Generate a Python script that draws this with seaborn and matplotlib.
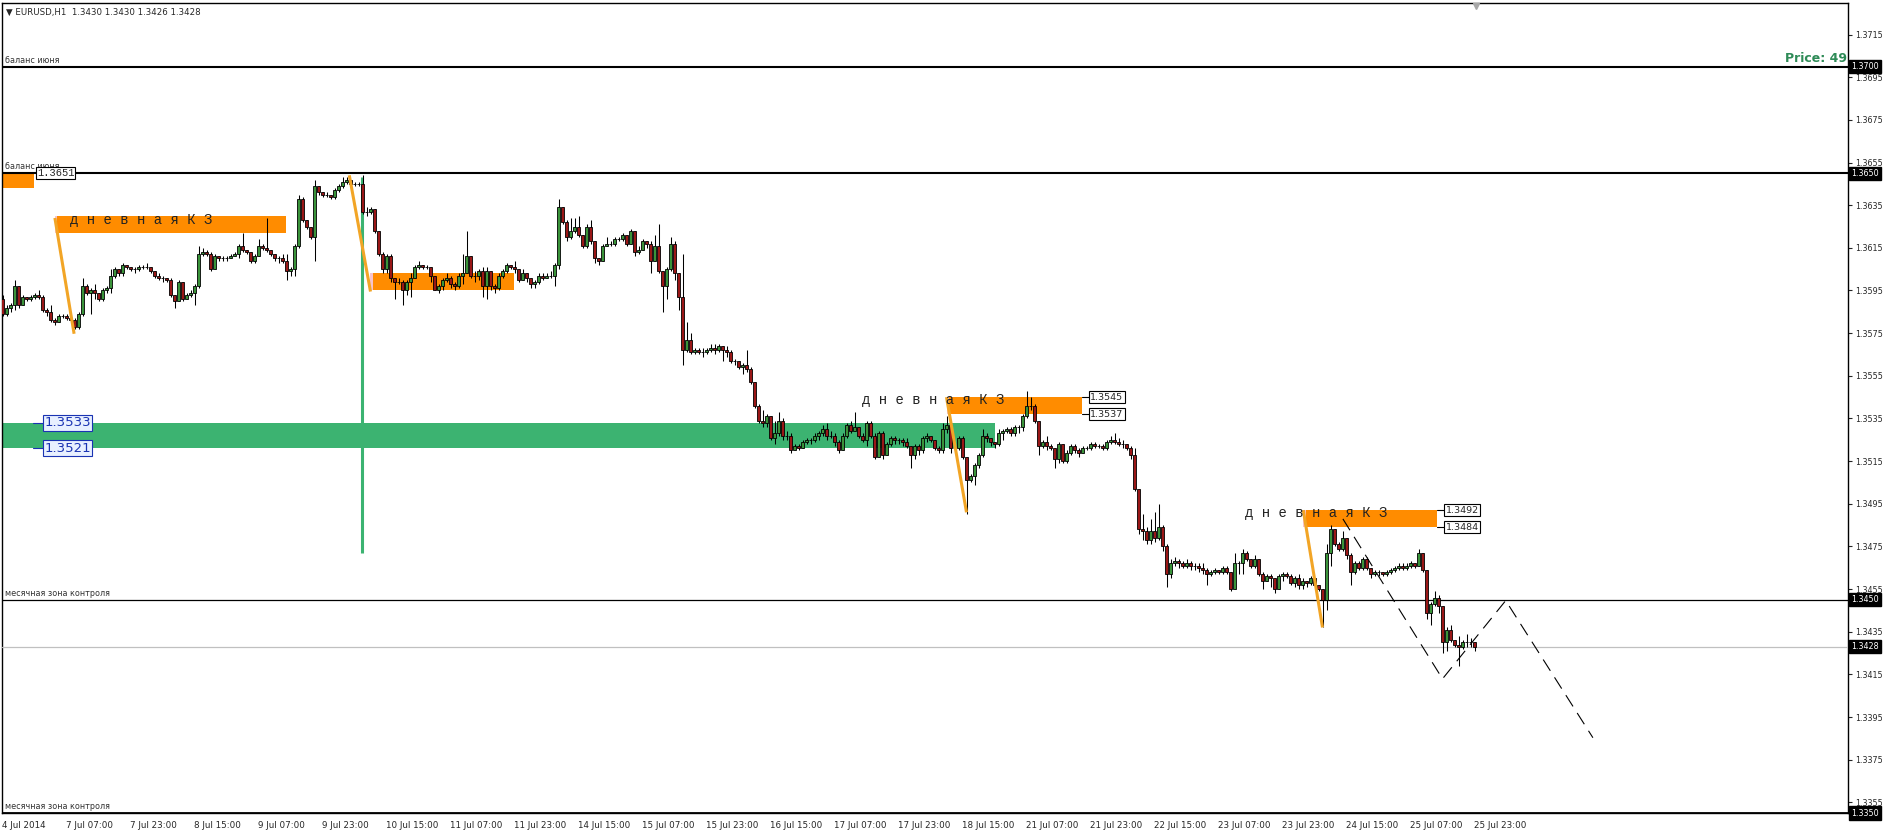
import numpy as np
import pandas as pd
import matplotlib
matplotlib.use("Agg")
import matplotlib.pyplot as plt
import matplotlib.transforms as mtransforms
from matplotlib.patches import Rectangle
import seaborn as sns

# EURUSD H1, 4 Jul 2014 15:00 .. 25 Jul 2014 23:00
# prices in pips above 1.3000, open of each bar = previous close
first_open = 591
closes = [
    584, 587, 588, 597, 588, 592, 591, 592, 593, 592,
    586, 585, 581, 580, 583, 583, 582, 581, 578, 584,
    597, 594, 595, 594, 591, 595, 596, 602, 605, 603,
    607, 606, 605, 605, 606, 606, 606, 604, 602, 601,
    601, 600, 593, 590, 599, 591, 593, 594, 597, 612,
    613, 612, 605, 611, 610, 610, 610, 611, 612, 616,
    614, 613, 609, 611, 616, 615, 614, 612, 610, 610,
    609, 604, 605, 616, 638, 628, 625, 620, 644, 641,
    640, 640, 639, 642, 644, 646, 647, 645, 645, 645,
    632, 632, 633, 623, 612, 605, 611, 601, 599, 599,
    595, 599, 601, 606, 607, 606, 606, 602, 595, 597,
    600, 601, 598, 597, 602, 603, 611, 602, 602, 604,
    597, 604, 597, 596, 602, 604, 607, 606, 605, 600,
    603, 601, 598, 599, 602, 601, 602, 602, 607, 634,
    627, 620, 623, 625, 621, 616, 625, 618, 610, 609,
    616, 617, 617, 619, 619, 621, 617, 623, 613, 614,
    618, 617, 609, 616, 604, 597, 605, 617, 603, 592,
    567, 572, 566, 567, 566, 566, 567, 568, 567, 569,
    567, 566, 562, 562, 559, 560, 558, 552, 541, 534,
    533, 536, 526, 528, 534, 527, 527, 520, 522, 521,
    524, 525, 525, 527, 528, 530, 527, 527, 524, 520,
    527, 532, 529, 531, 527, 525, 533, 527, 517, 528,
    518, 523, 526, 525, 525, 524, 522, 518, 522, 520,
    526, 527, 525, 521, 520, 530, 532, 521, 521, 526,
    517, 506, 508, 513, 518, 527, 526, 524, 523, 528,
    529, 530, 528, 531, 531, 536, 541, 541, 534, 522,
    524, 522, 521, 516, 523, 515, 519, 522, 520, 519,
    521, 521, 523, 522, 522, 521, 524, 525, 524, 523,
    523, 521, 518, 502, 483, 482, 478, 482, 479, 484,
    475, 462, 467, 468, 467, 466, 467, 466, 466, 465,
    464, 462, 463, 464, 463, 465, 463, 455, 467, 467,
    472, 469, 466, 469, 462, 459, 461, 460, 455, 461,
    462, 461, 458, 460, 457, 459, 458, 460, 457, 455,
    450, 472, 483, 476, 474, 479, 471, 463, 467, 465,
    469, 465, 462, 463, 463, 462, 463, 464, 465, 466,
    465, 466, 467, 466, 472, 464, 444, 448, 451, 447,
    430, 436, 431, 429, 428, 430, 430, 430, 428,
]
highs = [
    593, 588, 589, 600, 597, 593, 592, 593, 594, 595,
    593, 587, 588, 582, 584, 584, 584, 583, 582, 585,
    601, 598, 596, 598, 594, 596, 597, 605, 606, 605,
    608, 607, 606, 606, 607, 607, 608, 606, 604, 603,
    602, 601, 601, 592, 600, 599, 594, 595, 598, 616,
    615, 614, 613, 612, 611, 611, 611, 612, 613, 617,
    622, 614, 612, 612, 619, 617, 629, 614, 612, 611,
    612, 612, 606, 617, 640, 639, 628, 624, 647, 644,
    641, 641, 640, 643, 645, 648, 648, 647, 646, 646,
    649, 634, 634, 633, 623, 613, 612, 612, 600, 601,
    600, 600, 603, 607, 609, 607, 607, 606, 602, 598,
    601, 603, 602, 599, 603, 612, 623, 611, 604, 605,
    606, 606, 604, 598, 603, 605, 608, 607, 609, 605,
    605, 603, 601, 600, 603, 603, 603, 604, 608, 638,
    634, 628, 629, 629, 630, 621, 626, 628, 618, 610,
    617, 620, 618, 620, 620, 622, 621, 624, 623, 616,
    619, 618, 618, 621, 626, 604, 606, 620, 618, 603,
    612, 580, 575, 568, 568, 568, 568, 570, 570, 570,
    569, 569, 567, 563, 562, 561, 567, 559, 552, 542,
    539, 537, 536, 534, 538, 535, 529, 528, 523, 523,
    525, 526, 526, 528, 529, 532, 533, 529, 528, 525,
    528, 533, 534, 538, 531, 528, 534, 534, 528, 529,
    529, 524, 527, 527, 526, 526, 526, 522, 523, 523,
    527, 528, 527, 525, 522, 533, 536, 532, 522, 527,
    527, 517, 509, 514, 519, 530, 528, 526, 524, 530,
    530, 531, 531, 532, 532, 537, 548, 545, 542, 534,
    525, 527, 523, 521, 524, 523, 520, 523, 523, 521,
    522, 522, 524, 524, 523, 523, 525, 527, 528, 526,
    525, 523, 522, 521, 502, 490, 484, 488, 491, 495,
    485, 476, 469, 470, 469, 468, 469, 468, 467, 467,
    467, 465, 464, 465, 464, 466, 466, 463, 472, 468,
    474, 473, 469, 471, 469, 463, 462, 462, 459, 462,
    463, 463, 462, 461, 462, 460, 459, 461, 460, 457,
    455, 476, 485, 483, 477, 482, 479, 472, 468, 468,
    470, 470, 465, 464, 464, 463, 464, 465, 466, 467,
    467, 467, 468, 467, 474, 472, 464, 449, 454, 452,
    447, 437, 438, 431, 433, 431, 434, 432, 430,
]
lows = [
    583, 583, 585, 586, 587, 588, 590, 590, 591, 591,
    585, 583, 580, 579, 580, 582, 581, 580, 577, 577,
    583, 593, 584, 591, 590, 590, 594, 594, 601, 602,
    602, 605, 604, 603, 604, 605, 605, 603, 601, 600,
    599, 599, 592, 587, 590, 590, 591, 592, 588, 596,
    611, 611, 604, 605, 609, 609, 609, 610, 611, 610,
    613, 612, 608, 608, 611, 614, 613, 611, 609, 608,
    608, 600, 602, 602, 615, 627, 624, 619, 609, 640,
    639, 639, 638, 638, 641, 643, 645, 644, 644, 644,
    631, 630, 631, 622, 611, 603, 603, 599, 591, 598,
    588, 593, 592, 601, 605, 605, 605, 599, 595, 594,
    595, 599, 596, 595, 596, 598, 603, 601, 599, 600,
    592, 591, 595, 594, 595, 601, 603, 605, 603, 599,
    600, 599, 596, 596, 598, 600, 601, 601, 597, 605,
    626, 618, 619, 622, 620, 615, 615, 617, 608, 607,
    609, 616, 616, 616, 618, 618, 616, 617, 611, 612,
    614, 615, 603, 609, 603, 585, 591, 604, 600, 586,
    560, 566, 565, 565, 565, 564, 565, 566, 565, 566,
    562, 564, 561, 560, 558, 556, 557, 551, 540, 533,
    531, 531, 525, 523, 527, 525, 525, 519, 520, 520,
    522, 523, 523, 524, 525, 527, 525, 526, 522, 519,
    520, 526, 528, 529, 526, 524, 522, 526, 516, 517,
    516, 518, 522, 523, 523, 522, 521, 512, 516, 518,
    519, 524, 524, 520, 519, 519, 528, 519, 519, 520,
    516, 490, 505, 504, 512, 517, 524, 522, 521, 522,
    525, 528, 527, 527, 528, 529, 535, 539, 533, 518,
    521, 520, 520, 512, 514, 514, 514, 518, 519, 517,
    519, 520, 520, 521, 521, 520, 520, 523, 523, 522,
    521, 520, 516, 501, 481, 478, 476, 476, 477, 478,
    473, 456, 460, 466, 465, 465, 465, 464, 464, 463,
    462, 457, 461, 462, 462, 462, 462, 454, 455, 462,
    462, 468, 465, 465, 461, 455, 459, 456, 453, 455,
    459, 460, 457, 456, 455, 455, 456, 457, 456, 454,
    437, 445, 466, 475, 473, 473, 469, 457, 462, 464,
    464, 464, 460, 461, 461, 461, 461, 462, 463, 464,
    464, 464, 465, 465, 466, 463, 441, 438, 447, 444,
    425, 426, 430, 428, 419, 427, 428, 428, 426,
]
assert len(closes) == len(highs) == len(lows) == 369

time_labels = [
    "4 Jul 2014", "7 Jul 07:00", "7 Jul 23:00", "8 Jul 15:00", "9 Jul 07:00",
    "9 Jul 23:00", "10 Jul 15:00", "11 Jul 07:00", "11 Jul 23:00", "14 Jul 15:00",
    "15 Jul 07:00", "15 Jul 23:00", "16 Jul 15:00", "17 Jul 07:00", "17 Jul 23:00",
    "18 Jul 15:00", "21 Jul 07:00", "21 Jul 23:00", "22 Jul 15:00", "23 Jul 07:00",
    "23 Jul 23:00", "24 Jul 15:00", "25 Jul 07:00", "25 Jul 23:00",
]
price_ticks = [1.3355, 1.3375, 1.3395, 1.3415, 1.3435, 1.3455, 1.3475, 1.3495,
               1.3515, 1.3535, 1.3555, 1.3575, 1.3595, 1.3615, 1.3635, 1.3655,
               1.3675, 1.3695, 1.3715]
marked_prices = [1.3700, 1.3650, 1.3450, 1.3428, 1.3350]

# daily zones (orange): start bar, end bar, top, bottom
zone_start = [-0.5, 13.1, 91.9, 236.0, 325.2]
zone_end = [7.9, 70.9, 127.9, 269.8, 358.7]
zone_top = [1.3650, 1.3630, 1.3603, 1.3545, 1.3492]
zone_bottom = [1.3643, 1.3622, 1.3595, 1.3537, 1.3484]
# impulse legs leading into zones
leg_x0 = [13.1, 86.7, 236.0, 325.2]
leg_x1 = [17.9, 92.0, 241.0, 330.0]
leg_y0 = [1.3629, 1.3649, 1.3545, 1.3492]
leg_y1 = [1.35747, 1.35945, 1.3491, 1.3437]
kz_text_x = [16.9, 214.9, 310.6]
kz_text_y = [1.3628, 1.35438, 1.34907]
# green control band and vertical marker
band_end = 248.0
band_top, band_bottom = 1.3533, 1.3521
vline_bar, vline_top, vline_bottom = 89.95, 1.3648, 1.3472
# dashed projection
proj_x = [335.1, 360.0, 375.8, 397.6]
proj_y = [1.34879, 1.34129, 1.34496, 1.33853]

GREEN = "#3a933a"
RED = "#9a1717"
ORANGE = "#ff8c00"
LEG = "#f2a526"
BAND = "#3cb371"

sns.set_style("white")
plt.rcParams["font.family"] = ["DejaVu Sans"]

c = 1.3 + np.array(closes) / 1e4
o = 1.3 + np.array([first_open] + closes[:-1]) / 1e4
h = np.maximum(1.3 + np.array(highs) / 1e4, np.maximum(o, c))
l = np.minimum(1.3 + np.array(lows) / 1e4, np.minimum(o, c))
df = pd.DataFrame({"bar": np.arange(len(c)), "open": o, "high": h, "low": l, "close": c})

W, H = 1889, 835
fig = plt.figure(figsize=(W / 100, H / 100), dpi=100)
ax = fig.add_axes([2 / W, 22 / H, 1846 / W, 810 / H])
ax.set_xlim(-0.125, 461.375)
ax.set_ylim(1.3350, 1.37298)
tr = mtransforms.blended_transform_factory(ax.transAxes, ax.transData)

# zones
ax.add_patch(Rectangle((-1, band_bottom), band_end + 1, band_top - band_bottom,
                       color=BAND, lw=0, zorder=1))
for x0, x1, top, bot in zip(zone_start, zone_end, zone_top, zone_bottom):
    ax.add_patch(Rectangle((x0, bot), x1 - x0, top - bot, color=ORANGE, lw=0, zorder=2))
for x0, top, bot in zip(zone_start[1:], zone_top[1:], zone_bottom[1:]):
    ax.add_patch(Rectangle((x0, bot), 0.6, top - bot, color="#f7c3cc", lw=0, zorder=2.5))
ax.vlines(vline_bar, vline_bottom, vline_top, color=BAND, lw=2.2, zorder=2)

# levels
for p, lw in zip([1.3700, 1.3650, 1.3450, 1.3350], [1.5, 1.5, 0.9, 2.0]):
    ax.axhline(p, color="black", lw=lw, zorder=3)
ax.axhline(1.3428, color="#c0c0c0", lw=0.9, zorder=3)

# candles
col = np.where(df.close > df.open, GREEN, np.where(df.close < df.open, RED, "black"))
ax.vlines(df.bar, df.low, df.high, color="black", lw=0.75, zorder=4)
ax.bar(df.bar, (df.close - df.open).abs(), bottom=np.minimum(df.open, df.close),
       width=0.75, color=col, edgecolor="black", linewidth=0.6, zorder=5)

# impulse legs
for x0, x1, y0, y1 in zip(leg_x0, leg_x1, leg_y0, leg_y1):
    ax.plot([x0, x1], [y0, y1], color=LEG, lw=2.2, solid_capstyle="butt", zorder=6)

# projection
sns.lineplot(x=proj_x, y=proj_y, sort=False, estimator=None, color="black", lw=0.8, ax=ax, zorder=6)
ax.lines[-1].set_dashes([12, 7])

# texts
for x, y in zip(kz_text_x, kz_text_y):
    ax.text(x, y, "д н е в н а я К З", ha="left", va="center", fontsize=10,
            family="Liberation Mono", color="#222222", zorder=7)
for x1, top, bot in zip(zone_end[3:], zone_top[3:], zone_bottom[3:]):
    for p in (top, bot):
        ax.plot([x1, x1 + 2], [p, p], color="black", lw=0.8, zorder=6)
        ax.text(x1 + 2.1, p, f"{p:.4f}", ha="left", va="center", fontsize=6.8, zorder=8,
                bbox=dict(boxstyle="square,pad=0.15", fc="white", ec="black", lw=0.8))
for p in (band_top, band_bottom):
    ax.plot([7.6, 10.0], [p, p], color="#1a33b3", lw=0.8, zorder=6)
    ax.text(10.4, p, f"{p:.4f}", ha="left", va="center", fontsize=9.5, color="#1a33b3", zorder=8,
            bbox=dict(boxstyle="square,pad=0.1", fc="#e8f0ff", ec="#1a33b3", lw=0.8))
ax.text(8.6, 1.3650, "1.3651", ha="left", va="center", fontsize=7.5, family="Liberation Mono",
        zorder=8, bbox=dict(boxstyle="square,pad=0.1", fc="white", ec="black", lw=0.8))

for p, txt in [(1.3700, "баланс июня"), (1.3650, "баланс июня"),
               (1.3450, "месячная зона контроля"), (1.3350, "месячная зона контроля")]:
    ax.text(3 / 1846, p + 0.00008, txt, transform=tr, ha="left", va="bottom",
            fontsize=5.8, color="#333333", zorder=7)
ax.text(1 - 1 / 1846, 1.3700 + 0.00005, "Price: 49", transform=tr, ha="right", va="bottom",
        fontsize=9, fontweight="bold", color="#2e8b57", zorder=7)
ax.text(4 / 1846, 1 - 9 / 810, "▼ EURUSD,H1  1.3430 1.3430 1.3426 1.3428",
        transform=ax.transAxes, ha="left", va="center", fontsize=6.2, zorder=7)
ax.plot([368.4], [0.996], marker="v", ms=5, color="#a8a8a8",
        transform=mtransforms.blended_transform_factory(ax.transData, ax.transAxes),
        clip_on=False, zorder=7)

# axes
ax.set_xticks(df.bar[::16])
ax.set_xticklabels(time_labels, ha="left", fontsize=6.3)
shift = mtransforms.ScaledTranslation(2 / 100, 0, fig.dpi_scale_trans)
for lab in ax.get_xticklabels():
    lab.set_transform(lab.get_transform() + shift)
ax.tick_params(axis="x", direction="out", length=4, width=0.8, pad=1.5)
ax.yaxis.tick_right()
ax.set_yticks(price_ticks)
ax.set_yticklabels([f"{p:.4f}" for p in price_ticks], fontsize=5.8)
ax.tick_params(axis="y", direction="out", length=3, width=0.8, pad=2)
for p in marked_prices:
    ax.text(1 + 3 / 1846, p, f"{p:.4f}", transform=tr, ha="left", va="center", fontsize=5.8,
            color="white", zorder=10, clip_on=False,
            bbox=dict(boxstyle="square,pad=0.25", fc="black", ec="black"))
for s in ax.spines.values():
    s.set_color("black")
    s.set_linewidth(1)

fig.savefig("out.png", dpi=100, facecolor="white")
